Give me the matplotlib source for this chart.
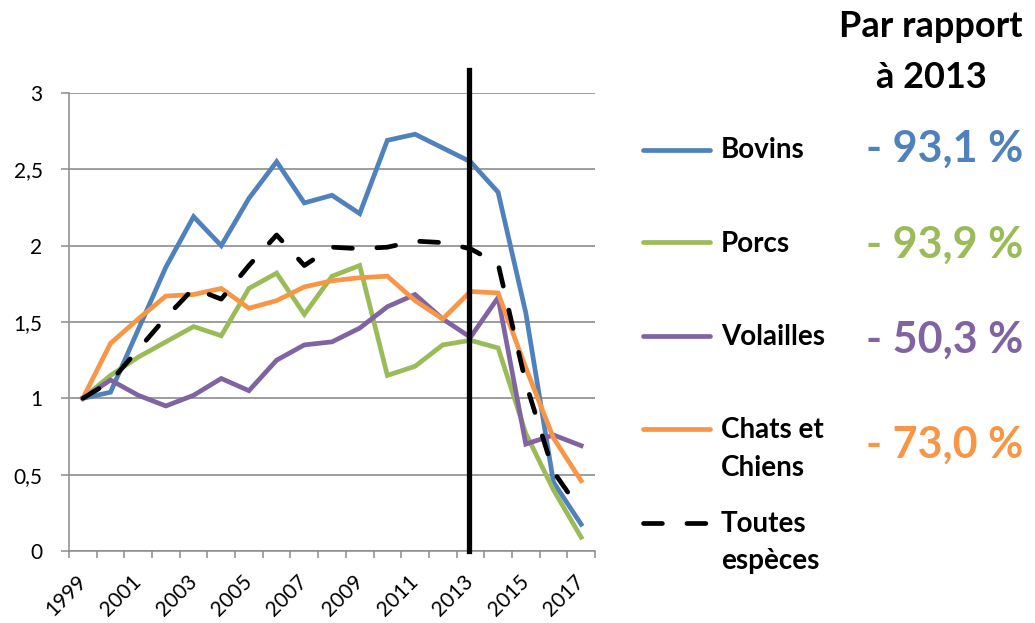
import numpy as np
import matplotlib
matplotlib.use('Agg')
import matplotlib.pyplot as plt
from matplotlib.lines import Line2D

plt.rcParams['font.family'] = ['Lato', 'DejaVu Sans']

years = list(range(1999, 2018))
bovins = [1.00, 1.04, 1.45, 1.86, 2.19, 2.00, 2.31, 2.55, 2.28, 2.33,
          2.21, 2.69, 2.73, 2.64, 2.55, 2.35, 1.56, 0.45, 0.175]
porcs = [1.00, 1.15, 1.27, 1.37, 1.47, 1.41, 1.72, 1.82, 1.55, 1.80,
         1.87, 1.15, 1.21, 1.35, 1.38, 1.33, 0.77, 0.40, 0.09]
volailles = [1.00, 1.12, 1.02, 0.95, 1.02, 1.13, 1.05, 1.25, 1.35, 1.37,
             1.46, 1.60, 1.68, 1.52, 1.40, 1.66, 0.70, 0.76, 0.69]
chats_chiens = [1.00, 1.36, 1.52, 1.67, 1.68, 1.72, 1.59, 1.64, 1.73, 1.77,
                1.79, 1.80, 1.64, 1.52, 1.70, 1.69, 1.20, 0.74, 0.46]
toutes = [1.00, 1.11, 1.32, 1.53, 1.72, 1.65, 1.87, 2.07, 1.87, 1.99,
          1.98, 1.99, 2.03, 2.02, 1.98, 1.88, 1.10, 0.52, 0.26]

labels = [['Bovins'], ['Porcs'], ['Volailles'], ['Chats et', 'Chiens'],
          ['Toutes', 'espèces']]
pct = ['- 93,1 %', '- 93,9 %', '- 50,3 %', '- 73,0 %', None]
colors = ['#4F81BD', '#9BBB59', '#8064A2', '#F79646', 'black']
ref_year = 2013
y_ticks = [0, 0.5, 1, 1.5, 2, 2.5, 3]

W, H = 1035, 623
def px(x, y):
    return x / W, 1 - y / H

fig = plt.figure(figsize=(W / 100, H / 100), dpi=100)
ax = fig.add_axes([69 / W, 72 / H, 526 / W, 458 / H])

x = np.arange(len(years))
lw = 3.4
dash = (4.0, 5.2)
series = [bovins, porcs, volailles, chats_chiens, toutes]
for s, c in zip(series, colors):
    if c == 'black':
        ax.plot(x, s, color=c, lw=lw, dashes=dash, dash_capstyle='round',
                zorder=4, clip_on=False)
    else:
        ax.plot(x, s, color=c, lw=lw, solid_joinstyle='miter', zorder=3,
                clip_on=False)

# vertical marker at 2013
xr = years.index(ref_year) - 0.05
ax.plot([xr, xr], [0, 3.15], color='black', lw=3.8, zorder=5, clip_on=False)

ax.set_xlim(-0.5, len(years) - 0.5)
ax.set_ylim(0, 3)
grid_c = '#8C8C8C'
ax.yaxis.grid(True, color=grid_c, lw=1.2)
ax.set_axisbelow(True)
ax.tick_params(axis='y', length=6, width=1.1, color=grid_c, pad=13,
               labelsize=15)
ax.tick_params(axis='x', which='major', length=0, pad=20, labelsize=15)
ax.tick_params(axis='x', which='minor', length=5, width=1.1, color=grid_c)

ax.set_yticks(y_ticks)
ax.set_yticklabels([('%g' % v).replace('.', ',') for v in y_ticks])
ax.set_xticks(x[::2])
ax.set_xticklabels([str(y) for y in years[::2]], rotation=45,
                   ha='right', va='center', rotation_mode='anchor')
ax.set_xticks(np.arange(-0.5, len(years), 1), minor=True)

for sp in ['top', 'right']:
    ax.spines[sp].set_visible(False)
for sp in ['left', 'bottom']:
    ax.spines[sp].set_color(grid_c)
    ax.spines[sp].set_linewidth(1.1)

# title on the right
fig.text(*px(931, 37), 'Par rapport', fontsize=26, fontweight='bold',
         ha='center', va='baseline')
fig.text(*px(931, 88), 'à 2013', fontsize=26, fontweight='bold',
         ha='center', va='baseline')

# custom legend with percentages
line_y = [150, 242, 336, 429, 523]
text_base = [158, 252, 345, 438, 532]
pct_base = [162, 258, 353, 458, None]
for i in range(len(labels)):
    x0, y0 = px(643, line_y[i])
    x1, _ = px(710, line_y[i])
    if colors[i] == 'black':
        fig.add_artist(Line2D([x0, x1], [y0, y0], color='black', lw=lw,
                              dashes=dash, dash_capstyle='round'))
    else:
        fig.add_artist(Line2D([x0, x1], [y0, y0], color=colors[i], lw=lw,
                              solid_capstyle='round'))
    for k, t in enumerate(labels[i]):
        fig.text(*px(721, text_base[i] + 37.5 * k), t, fontsize=20,
                 fontweight='bold', ha='left', va='baseline')
    if pct[i]:
        fig.text(*px(866, pct_base[i]), pct[i], fontsize=31, fontweight='bold',
                 color=colors[i], ha='left', va='baseline')

fig.savefig('out.png', dpi=100)
